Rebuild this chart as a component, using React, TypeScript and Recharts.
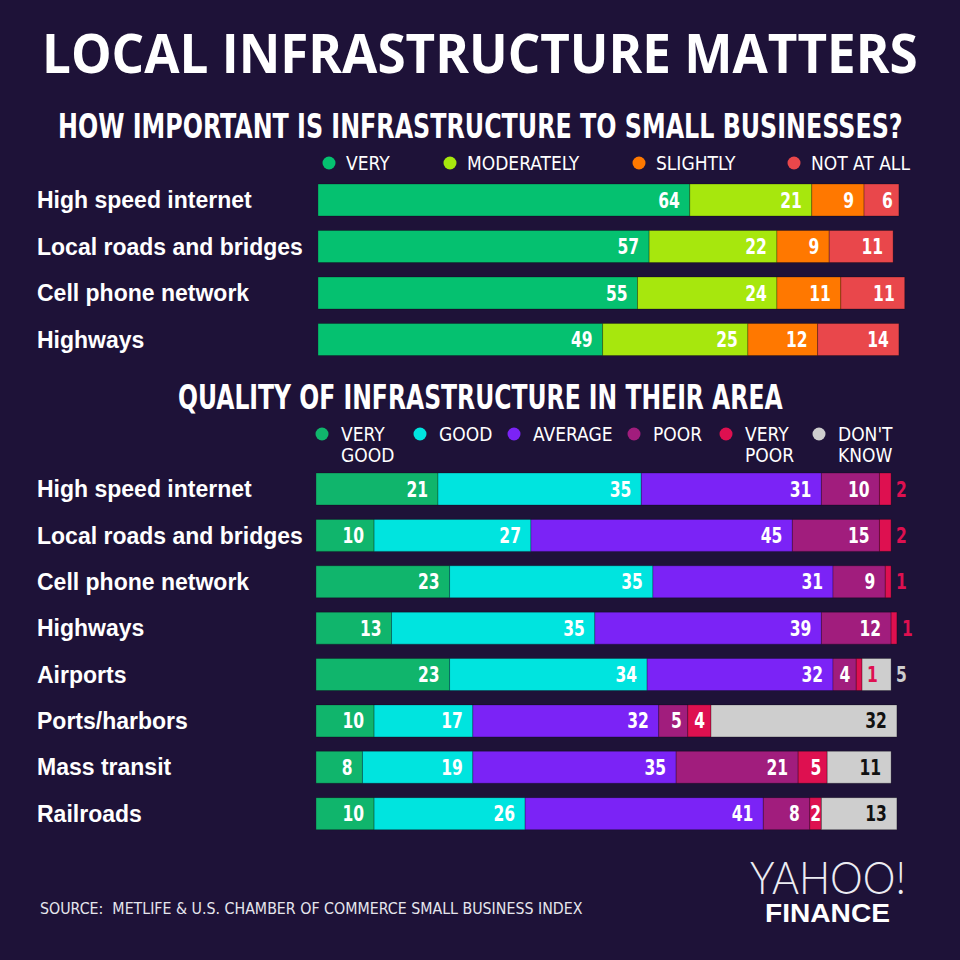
import React, { useLayoutEffect, useRef, useState } from "react";
import { BarChart, Bar, XAxis, YAxis, LabelList } from "recharts";

// ---- data ----
const importanceCategories = [
  "High speed internet",
  "Local roads and bridges",
  "Cell phone network",
  "Highways",
];
const veryImportant = [64, 57, 55, 49];
const moderatelyImportant = [21, 22, 24, 25];
const slightlyImportant = [9, 9, 11, 12];
const notAtAllImportant = [6, 11, 11, 14];

const qualityCategories = [
  "High speed internet",
  "Local roads and bridges",
  "Cell phone network",
  "Highways",
  "Airports",
  "Ports/harbors",
  "Mass transit",
  "Railroads",
];
const veryGood = [21, 10, 23, 13, 23, 10, 8, 10];
const good = [35, 27, 35, 35, 34, 17, 19, 26];
const average = [31, 45, 31, 39, 32, 32, 35, 41];
const poor = [10, 15, 9, 12, 4, 5, 21, 8];
const veryPoor = [2, 2, 1, 1, 1, 4, 5, 2];
const dontKnow = [0, 0, 0, 0, 5, 32, 11, 13];

const importanceLegend = [["VERY"], ["MODERATELY"], ["SLIGHTLY"], ["NOT AT ALL"]];
const qualityLegend = [
  ["VERY", "GOOD"],
  ["GOOD"],
  ["AVERAGE"],
  ["POOR"],
  ["VERY", "POOR"],
  ["DON'T", "KNOW"],
];

// ---- styles ----
const BG = "#1e1238";
const NARROW = "'Liberation Sans Narrow', 'DejaVu Sans Condensed', sans-serif";
const SANS = "'Liberation Sans', Arial, sans-serif";

const importanceData = importanceCategories.map((name, i) => ({
  name,
  very: veryImportant[i],
  moderately: moderatelyImportant[i],
  slightly: slightlyImportant[i],
  notAtAll: notAtAllImportant[i],
}));

const qualityData = qualityCategories.map((name, i) => ({
  name,
  veryGood: veryGood[i],
  good: good[i],
  average: average[i],
  poor: poor[i],
  veryPoor: veryPoor[i],
  dontKnow: dontKnow[i],
}));

interface Series {
  key: string;
  color: string;
  text: string;
  mode?: "veryPoor" | "dontKnow";
}

const importanceSeries: Series[] = [
  { key: "very", color: "#05c170", text: "#fff" },
  { key: "moderately", color: "#a7e70d", text: "#fff" },
  { key: "slightly", color: "#ff7800", text: "#fff" },
  { key: "notAtAll", color: "#e9474b", text: "#fff" },
];

const qualitySeries: Series[] = [
  { key: "veryGood", color: "#10b56c", text: "#fff" },
  { key: "good", color: "#00e4df", text: "#fff" },
  { key: "average", color: "#7b23f6", text: "#fff" },
  { key: "poor", color: "#a11d7d", text: "#fff" },
  { key: "veryPoor", color: "#de1050", text: "#fff", mode: "veryPoor" },
  { key: "dontKnow", color: "#cecece", text: "#111", mode: "dontKnow" },
];

const importanceLegendX = [329, 450, 639, 794];
const qualityLegendX = [322, 420, 514, 634, 726, 819];

// squeezes a text horizontally so it spans exactly `width` px
const FitText = ({ x, y, width, children, ...rest }: any) => {
  const ref = useRef<SVGTextElement>(null);
  const [k, setK] = useState(1);
  useLayoutEffect(() => {
    if (ref.current) {
      const w = ref.current.getComputedTextLength();
      if (w > 0) setK(width / w);
    }
  }, [width]);
  return (
    <text
      ref={ref}
      transform={`translate(${x},${y}) scale(${k},1)`}
      style={{ whiteSpace: "pre" }}
      {...rest}
    >
      {children}
    </text>
  );
};

const CategoryTick = ({ y, payload }: any) => (
  <text
    x={37}
    y={y + 8}
    fill="#fff"
    fontSize={23}
    fontWeight={700}
    fontFamily={SANS}
  >
    {payload.value}
  </text>
);

const segmentLabel = (s: Series) => (props: any) => {
  const { x, y, width, height, value, index } = props;
  if (!value) return null;
  let outside = false;
  if (s.mode === "veryPoor") outside = value <= 1 || !dontKnow[index];
  if (s.mode === "dontKnow") outside = value <= 5;
  const narrow = !outside && width < 20;
  const digits = String(value).length;
  let tx = x + width - 10;
  let anchor = "end";
  if (outside) {
    tx = x + width + 5;
    anchor = "start";
  } else if (narrow) {
    tx = x + width / 2;
    anchor = "middle";
  } else if (width < 35) {
    tx = x + width - 6;
  }
  return (
    <text
      x={tx}
      y={y + height / 2 + 7.5}
      textAnchor={anchor}
      fill={outside ? s.color : s.text}
      fontSize={21}
      fontWeight={700}
      fontFamily={NARROW}
      textLength={digits * 10.8}
      lengthAdjust="spacingAndGlyphs"
    >
      {value}
    </text>
  );
};

const StackedChart = ({ data, series, top, height, axisWidth, right }: any) => (
  <div style={{ position: "absolute", left: 0, top }}>
    <BarChart
      width={960}
      height={height}
      data={data}
      layout="vertical"
      margin={{ top: 0, right, bottom: 0, left: 0 }}
    >
      <XAxis type="number" hide domain={[0, 110]} allowDataOverflow />
      <YAxis
        type="category"
        dataKey="name"
        width={axisWidth}
        axisLine={false}
        tickLine={false}
        interval={0}
        tick={(p: any) => <CategoryTick {...p} />}
      />
      {series.map((s: Series) => (
        <Bar
          key={s.key}
          dataKey={s.key}
          stackId="a"
          fill={s.color}
          stroke="rgba(0,0,0,0.25)"
          strokeWidth={1}
          barSize={32}
          isAnimationActive={false}
        >
          <LabelList dataKey={s.key} content={segmentLabel(s)} />
        </Bar>
      ))}
    </BarChart>
  </div>
);

const App: React.FC = () => {
  return (
    <div
      style={{
        position: "relative",
        width: 960,
        height: 960,
        background: BG,
        overflow: "hidden",
      }}
    >
      <style>{"body{margin:0}"}</style>

      <StackedChart
        data={importanceData}
        series={importanceSeries}
        top={177}
        height={186}
        axisWidth={318}
        right={3}
      />
      <StackedChart
        data={qualityData}
        series={qualitySeries}
        top={466}
        height={371}
        axisWidth={316}
        right={5}
      />

      <svg
        width={960}
        height={960}
        style={{ position: "absolute", left: 0, top: 0, pointerEvents: "none" }}
      >
        <FitText
          x={42}
          y={73}
          width={876}
          fill="#fff"
          fontSize={53}
          fontWeight={700}
          fontFamily="'Open Sans', sans-serif"
        >
          LOCAL INFRASTRUCTURE MATTERS
        </FitText>
        <FitText
          x={58}
          y={138}
          width={845}
          fill="#fff"
          fontSize={34}
          fontWeight={700}
          fontFamily={NARROW}
        >
          HOW IMPORTANT IS INFRASTRUCTURE TO SMALL BUSINESSES?
        </FitText>
        <FitText
          x={178}
          y={409}
          width={605}
          fill="#fff"
          fontSize={34}
          fontWeight={700}
          fontFamily={NARROW}
        >
          QUALITY OF INFRASTRUCTURE IN THEIR AREA
        </FitText>

        {importanceSeries.map((s, i) => (
          <g key={s.key}>
            <circle cx={importanceLegendX[i]} cy={163} r={6.5} fill={s.color} />
            <text
              x={importanceLegendX[i] + 17}
              y={170}
              fill="#fff"
              fontSize={19}
              fontFamily={NARROW}
            >
              {importanceLegend[i][0]}
            </text>
          </g>
        ))}

        {qualitySeries.map((s, i) => (
          <g key={s.key}>
            <circle cx={qualityLegendX[i]} cy={434} r={6.5} fill={s.color} />
            {qualityLegend[i].map((line, j) => (
              <text
                key={j}
                x={qualityLegendX[i] + 19}
                y={441 + j * 21}
                fill="#fff"
                fontSize={19}
                fontFamily={NARROW}
              >
                {line}
              </text>
            ))}
          </g>
        ))}

        <FitText
          x={40}
          y={914}
          width={543}
          fill="#e6e6ee"
          fontSize={15}
          fontFamily={NARROW}
        >
          SOURCE:  METLIFE &amp; U.S. CHAMBER OF COMMERCE SMALL BUSINESS INDEX
        </FitText>
        <FitText
          x={750}
          y={894}
          width={156}
          fill="#ececf2"
          fontSize={45}
          fontWeight={300}
          fontFamily="Lato, 'Open Sans', sans-serif"
        >
          YAHOO!
        </FitText>
        <FitText
          x={765}
          y={922}
          width={125}
          fill="#fff"
          fontSize={25}
          fontWeight={700}
          fontFamily={SANS}
        >
          FINANCE
        </FitText>
      </svg>
    </div>
  );
};

export default App;
